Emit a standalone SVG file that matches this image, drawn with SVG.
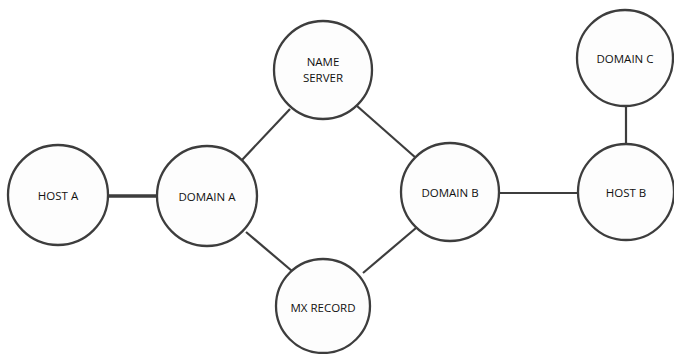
<svg xmlns="http://www.w3.org/2000/svg" width="674" height="354" viewBox="0 0 674 354">
  <style>
    .node circle { fill: #fdfdfd; stroke: #3d3d3d; stroke-width: 2.3; }
    .node text { font-family: "Open Sans", "Noto Sans", sans-serif; font-size: 11.5px; fill: #111111; text-anchor: middle; dominant-baseline: central; }
    .edges line { stroke: #3d3d3d; stroke-width: 2.2; }
    .edges line.thick { stroke-width: 3.5; }
  </style>
  <rect width="674" height="354" fill="#ffffff"/>
  <g id="edges" class="edges">
    <line class="thick" x1="108" y1="196" x2="157" y2="196"/>
    <line x1="242" y1="160" x2="290" y2="109"/>
    <line x1="246" y1="232" x2="292" y2="271"/>
    <line x1="357" y1="106" x2="416" y2="158"/>
    <line x1="363" y1="273" x2="416" y2="228"/>
    <line x1="499" y1="193" x2="578" y2="193"/>
    <line x1="626" y1="106" x2="626" y2="144"/>
  </g>
  <g id="host-a" class="node">
    <circle cx="58" cy="195" r="50"/>
    <text x="58" y="195">HOST A</text>
  </g>
  <g id="domain-a" class="node">
    <circle cx="207" cy="196" r="50"/>
    <text x="207" y="196">DOMAIN A</text>
  </g>
  <g id="name-server" class="node">
    <circle cx="323" cy="70" r="49"/>
    <text x="323" y="61">NAME</text>
    <text x="323" y="77">SERVER</text>
  </g>
  <g id="mx-record" class="node">
    <circle cx="323" cy="306" r="47"/>
    <text x="323" y="307">MX RECORD</text>
  </g>
  <g id="domain-b" class="node">
    <circle cx="450" cy="192" r="49"/>
    <text x="450" y="192">DOMAIN B</text>
  </g>
  <g id="host-b" class="node">
    <circle cx="626" cy="192" r="48"/>
    <text x="626" y="192">HOST B</text>
  </g>
  <g id="domain-c" class="node">
    <circle cx="625" cy="58" r="48"/>
    <text x="625" y="58">DOMAIN C</text>
  </g>
</svg>
